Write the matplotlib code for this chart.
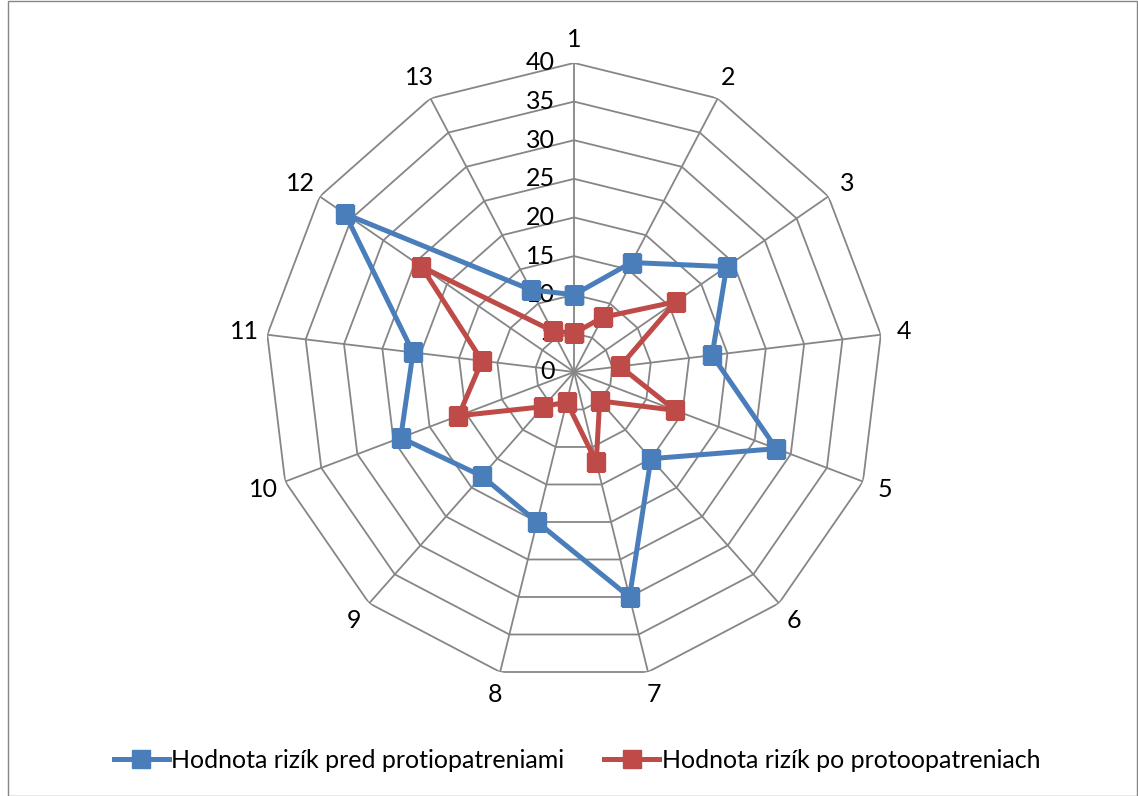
import numpy as np
import matplotlib
matplotlib.use("Agg")
import matplotlib.pyplot as plt
import matplotlib.transforms as mtransforms
from matplotlib.patches import Rectangle
from matplotlib.lines import Line2D

plt.rcParams['font.family'] = ['Lato', 'DejaVu Sans']

categories = [str(i) for i in range(1, 14)]
pred = [10, 16, 24, 18, 28, 15, 30, 20, 18, 24, 21, 36, 12]
po = [5, 8, 16, 6, 14, 5, 12, 4, 6, 16, 12, 24, 6]
levels = [0, 5, 10, 15, 20, 25, 30, 35, 40]
series_names = ["Hodnota rizík pred protiopatreniami", "Hodnota rizík po protoopatreniach"]

blue = "#4A7EBB"
red = "#BE4B48"
grid_c = "#868686"

fig = plt.figure(figsize=(11.38, 7.96), dpi=100)
ax = fig.add_axes([0.2329, 0.1445, 0.5431, 0.7764], projection='polar')
ax.set_theta_zero_location('N')
ax.set_theta_direction(-1)
ax.set_ylim(0, 40)
ax.grid(False)
ax.set_xticks([])
ax.set_yticks([])
ax.spines['polar'].set_visible(False)
ax.patch.set_visible(False)

n = len(categories)
theta = np.arange(n) * 2 * np.pi / n
theta_c = np.append(theta, theta[0])

# polygon grid
for lv in levels[1:]:
    ax.plot(theta_c, [lv] * (n + 1), color=grid_c, lw=1.3, zorder=1)
for t in theta:
    ax.plot([t, t], [0, 40], color=grid_c, lw=1.3, zorder=1)

# radial labels left of the first spoke
off = mtransforms.offset_copy(ax.transData, fig=fig, x=-19, y=0, units='dots')
for lv in levels:
    ax.text(0, lv, str(lv), transform=off, ha='right', va='center', fontsize=18)

# category labels
for t, c in zip(theta, categories):
    ax.text(t, 43.0, c, ha='center', va='center', fontsize=18)

ax.plot(theta_c, pred + pred[:1], color=blue, lw=3.6, marker='s', ms=13,
        markeredgecolor=blue, zorder=3)
ax.plot(theta_c, po + po[:1], color=red, lw=3.6, marker='s', ms=13,
        markeredgecolor=red, zorder=4)

handles = [Line2D([], [], color=blue, lw=3.6, marker='s', ms=13),
           Line2D([], [], color=red, lw=3.6, marker='s', ms=13)]
fig.legend(handles, series_names, loc='center', bbox_to_anchor=(0.507, 0.045),
           ncol=2, frameon=False, fontsize=18, handlelength=2.2,
           handletextpad=0.1, columnspacing=1.6)

fig.patches.append(Rectangle((0.007, 0.0), 0.992, 0.999, transform=fig.transFigure,
                             fill=False, edgecolor=grid_c, lw=1))

fig.savefig("out.png", dpi=100)
